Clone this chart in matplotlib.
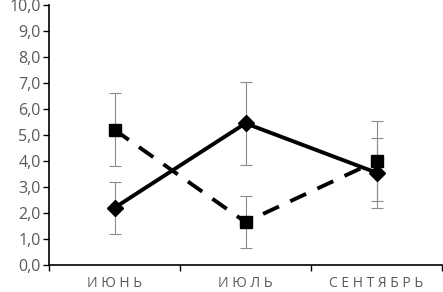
import numpy as np
import matplotlib.pyplot as plt

months = ['ИЮНЬ', 'ИЮЛЬ', 'СЕНТЯБРЬ']
solid_vals = [2.2, 5.45, 3.55]
solid_err = [1.0, 1.6, 1.35]
dashed_vals = [5.2, 1.65, 4.0]
dashed_err = [1.4, 1.0, 1.52]

plt.rcParams['font.family'] = ['Open Sans', 'DejaVu Sans']

fig = plt.figure(figsize=(4.43, 2.92), dpi=100)
ax = fig.add_axes([49 / 443, 27 / 292, 393 / 443, 260 / 292])

x = np.arange(len(months))
ax.errorbar(x, solid_vals, yerr=solid_err, fmt='none', ecolor='#8c8c8c',
            elinewidth=0.8, capsize=4, capthick=0.8, zorder=1)
ax.errorbar(x, dashed_vals, yerr=dashed_err, fmt='none', ecolor='#8c8c8c',
            elinewidth=0.8, capsize=4, capthick=0.8, zorder=1)
ax.plot(x, solid_vals, color='black', lw=2.8, marker='D', ms=8, zorder=3)
ax.plot(x, dashed_vals, color='black', lw=2.8, ls=(0, (4.5, 3.2)), marker='s', ms=8, zorder=3)

ax.set_xlim(-0.5, 2.5)
ax.set_ylim(0, 10)
ax.set_yticks(np.arange(0, 10.5, 1))
ax.set_yticklabels([f'{v:.1f}'.replace('.', ',') for v in np.arange(0, 10.5, 1)])
ax.set_xticks([-0.5, 0.5, 1.5, 2.5])
ax.set_xticklabels([])
ax.set_xticks(x, minor=True)
ax.set_xticklabels([' '.join(m) for m in months], minor=True)
ax.tick_params(axis='x', which='minor', length=0, pad=8, labelsize=10, labelcolor='#595959')
ax.tick_params(axis='x', which='major', length=4, direction='out', width=1)
ax.tick_params(axis='y', length=4, width=1, labelsize=11.5, labelcolor='#595959', pad=2)

ax.spines['top'].set_visible(False)
ax.spines['right'].set_visible(False)
ax.spines['left'].set_linewidth(1.2)
ax.spines['bottom'].set_linewidth(1.2)

fig.savefig('out.png', dpi=100)
